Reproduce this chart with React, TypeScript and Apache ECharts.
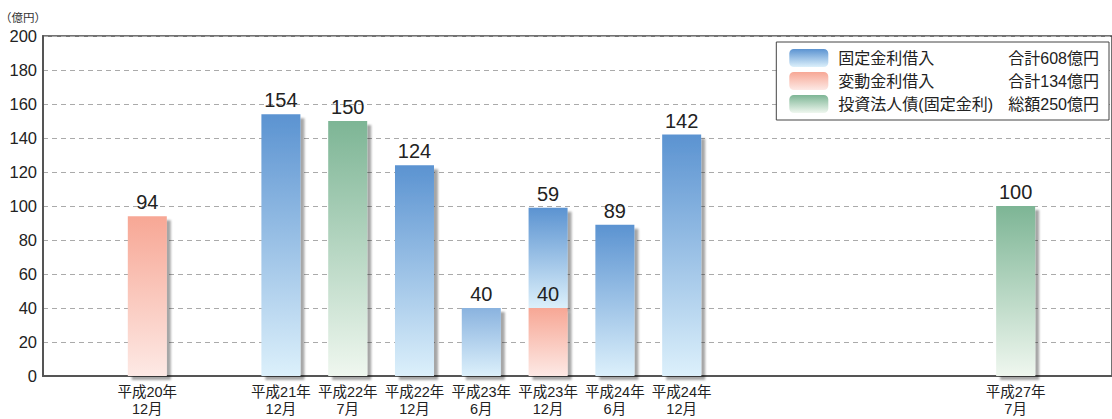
import React, { useEffect, useRef } from "react";
import * as echarts from "echarts";

const categories = [
  "平成20年\n12月",
  "平成21年\n12月",
  "平成22年\n7月",
  "平成22年\n12月",
  "平成23年\n6月",
  "平成23年\n12月",
  "平成24年\n6月",
  "平成24年\n12月",
  "平成27年\n7月",
];
// position of each date on a half-year timeline
const halfYearPositions = [0, 2, 3, 4, 5, 6, 7, 8, 13];
const fixedLoans: (number | null)[] = [null, 154, null, 124, 40, 59, 89, 142, null];
const floatingLoans: (number | null)[] = [94, null, null, null, null, 40, null, null, null];
const bonds: (number | null)[] = [null, null, 150, null, null, null, null, null, 100];
const yTicks = { min: 0, max: 200, interval: 20 };

const seriesNames = ["固定金利借入", "変動金利借入", "投資法人債(固定金利)"];
const totalPrefixes = ["合計", "合計", "総額"];

const FONT = "'Liberation Sans', Arial, 'Noto Sans CJK JP', sans-serif";

const sum = (a: (number | null)[]) => a.reduce((s: number, v) => s + (v ?? 0), 0);

const grad = (top: string, bottom: string) =>
  new echarts.graphic.LinearGradient(0, 0, 0, 1, [
    { offset: 0, color: top },
    { offset: 1, color: bottom },
  ]);

export default function App() {
  const ref = useRef<HTMLDivElement>(null);
  useEffect(() => {
    if (!ref.current) return;
    const chart = echarts.init(ref.current, undefined, { renderer: "svg" });
    const totals = [sum(fixedLoans), sum(floatingLoans), sum(bonds)];
    const blue = grad("#5b93d1", "#dcf0fb");
    const blueLight = grad("#8ab3df", "#dcf0fb");
    const salmon = grad("#f7a795", "#fde9e5");
    const green = grad("#7db595", "#eff7ef");

    const toData = (vals: (number | null)[], special?: (i: number) => any) =>
      vals.map((v, i) => {
        const item: any = { value: [halfYearPositions[i], v == null ? "-" : v] };
        if (special) {
          const s = special(i);
          if (s) item.itemStyle = s;
        }
        return item;
      });

    const BAR_W = 39;
    const shadow = {
      shadowColor: "rgba(0,0,0,0.35)",
      shadowBlur: 2,
      shadowOffsetX: 4,
      shadowOffsetY: 4,
    };
    const common = {
      type: "bar" as const,
      stack: "all",
      barWidth: BAR_W,
      xAxisIndex: 0,
      label: {
        show: true,
        position: "top" as const,
        distance: 4,
        fontSize: 20,
        color: "#222",
        fontFamily: FONT,
        formatter: (p: any) => String(p.value[1]),
      },
      emphasis: { disabled: true },
    };

    // plot spans x = 43 .. 1114 px; one half-year step = 66.92 px
    const plotW = 1071;
    const xMin = (43 - 147.5) / 66.92;
    const xMax = xMin + plotW / 66.92;
    // the time axis widens its range by the bar width; pre-shrink so both axes coincide
    const range = xMax - xMin;
    const buffer = (range - range * (1 - BAR_W / plotW)) / 2;

    chart.setOption({
      animation: false,
      backgroundColor: "#fff",
      grid: {
        left: 43,
        right: -2,
        top: 36,
        bottom: 43,
        show: true,
        borderColor: "#444",
        borderWidth: 1.5,
        backgroundColor: "transparent",
      },
      graphic: [
        {
          type: "text",
          left: 0,
          top: 12,
          style: { text: "（億円）", fontSize: 11.5, fill: "#333", fontFamily: FONT },
        },
      ],
      legend: {
        orient: "vertical",
        right: 3,
        top: 42,
        itemWidth: 39,
        itemHeight: 18,
        itemGap: 5,
        padding: [7, 10, 7, 13],
        borderColor: "#444",
        borderWidth: 1,
        backgroundColor: "#fff",
        selectedMode: false,
        data: [seriesNames[0], seriesNames[1], seriesNames[2]],
        formatter: (name: string) => {
          const i = seriesNames.indexOf(name);
          return `{a|${name}}{b|${totalPrefixes[i]}${totals[i]}億円}`;
        },
        textStyle: {
          fontFamily: FONT,
          fontSize: 16,
          color: "#222",
          rich: {
            a: { width: 170, padding: [0, 0, 0, 5], fontSize: 16, fontFamily: FONT, color: "#222" },
            b: { fontSize: 16, fontFamily: FONT, color: "#222" },
          },
        },
      },
      xAxis: [
        {
          // time axis in half-year units: lets the bars stack on the amount dimension
          type: "time",
          position: "bottom",
          min: xMin + buffer,
          max: xMax - buffer,
          axisLine: { show: true, onZero: false, lineStyle: { color: "#555", width: 2 } },
          axisTick: { show: false },
          splitLine: { show: false },
          axisLabel: { show: false },
        },
        {
          // same scale, used only for the date labels
          type: "value",
          position: "bottom",
          min: xMin,
          max: xMax,
          axisLine: { show: false, onZero: false },
          axisTick: { show: false },
          splitLine: { show: false },
          axisLabel: {
            customValues: halfYearPositions,
            formatter: (v: number) => {
              const i = halfYearPositions.indexOf(Math.round(v));
              return i >= 0 ? categories[i] : "";
            },
            fontSize: 14.5,
            lineHeight: 17,
            color: "#222",
            fontFamily: FONT,
            margin: 7,
          },
        },
      ],
      yAxis: {
        type: "value",
        min: yTicks.min,
        max: yTicks.max,
        interval: yTicks.interval,
        axisLine: { show: true, onZero: false, lineStyle: { color: "#555", width: 2 } },
        axisTick: { show: false },
        axisLabel: { fontSize: 16.5, color: "#222", fontFamily: FONT, margin: 6 },
        splitLine: { show: true, lineStyle: { color: "#aaa", type: [5, 4], width: 1 } },
      },
      series: [
        {
          ...common,
          name: seriesNames[1],
          z: 3,
          itemStyle: { color: salmon, ...shadow },
          data: toData(floatingLoans),
        },
        {
          ...common,
          name: seriesNames[0],
          z: 2,
          itemStyle: { color: blue, ...shadow },
          data: toData(fixedLoans, (i) => (fixedLoans[i] === 40 ? { color: blueLight, ...shadow } : null)),
        },
        {
          ...common,
          name: seriesNames[2],
          z: 2,
          itemStyle: { color: green, ...shadow },
          data: toData(bonds),
        },
      ],
    });
    return () => chart.dispose();
  }, []);
  return (
    <div
      ref={ref}
      style={{ position: "fixed", left: 0, top: 0, width: 1112, height: 419 }}
    />
  );
}
